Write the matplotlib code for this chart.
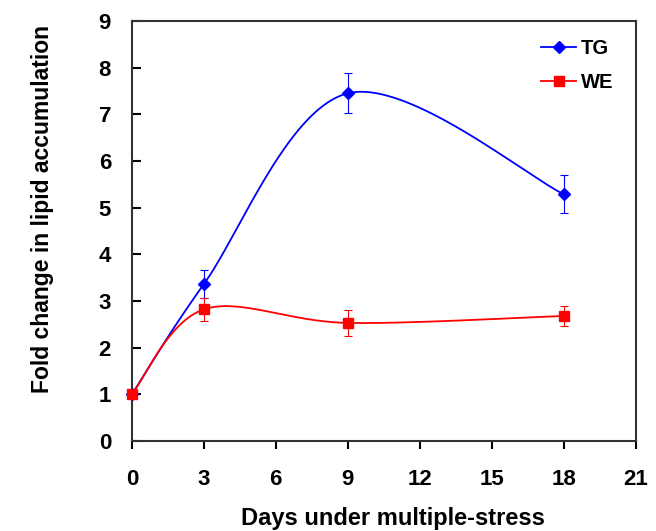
import numpy as np
import matplotlib.pyplot as plt

plt.rcParams['font.family'] = ['Liberation Sans', 'DejaVu Sans']
plt.rcParams['font.weight'] = 'bold'

# donnees
jours = [0, 3, 9, 18]
tg = [1.0, 3.36, 7.45, 5.29]
tg_err = [0.0, 0.30, 0.43, 0.41]
we = [1.0, 2.82, 2.53, 2.68]
we_err = [0.0, 0.25, 0.27, 0.21]


def courbe_lissee(xs, ys, n=60):
    """lissage facon tableur : segments de Bezier (Catmull-Rom)"""
    xs = np.asarray(xs, float)
    ys = np.asarray(ys, float)
    px = np.concatenate([[xs[0]], xs, [xs[-1]]])
    py = np.concatenate([[ys[0]], ys, [ys[-1]]])
    t = np.linspace(0, 1, n)
    bx, by = [], []
    for i in range(1, len(px) - 2):
        c1x = px[i] + (px[i + 1] - px[i - 1]) / 6
        c1y = py[i] + (py[i + 1] - py[i - 1]) / 6
        c2x = px[i + 1] - (px[i + 2] - px[i]) / 6
        c2y = py[i + 1] - (py[i + 2] - py[i]) / 6
        a, b, c, d = (1 - t) ** 3, 3 * (1 - t) ** 2 * t, 3 * (1 - t) * t ** 2, t ** 3
        bx.append(a * px[i] + b * c1x + c * c2x + d * px[i + 1])
        by.append(a * py[i] + b * c1y + c * c2y + d * py[i + 1])
    return np.concatenate(bx), np.concatenate(by)


fig = plt.figure(figsize=(6.56, 5.31), dpi=100)
ax = fig.add_axes([0.201, 0.1695, 0.768, 0.791])

for ys, err, col, mk, ms, nom in [(tg, tg_err, '#0000FF', 'D', 6.5, 'TG'),
                                  (we, we_err, '#FF0000', 's', 6.5, 'WE')]:
    cx, cy = courbe_lissee(jours, ys)
    ax.plot(cx, cy, color=col, lw=1.3, zorder=2)
    ax.errorbar(jours, ys, yerr=err, fmt='none', ecolor=col, elinewidth=0.8,
                capsize=3, capthick=0.8, zorder=3)
    ax.plot(jours, ys, linestyle='none', marker=mk, color=col,
            markersize=ms, zorder=4, clip_on=False)
    ax.plot([], [], color=col, marker=mk, lw=1.3, markersize=ms, label=nom)

ax.set_xlim(0, 21)
ax.set_ylim(0, 9)
ax.set_xticks(range(0, 22, 3))
ax.set_yticks(range(0, 10))
ax.tick_params(axis='x', direction='out', length=6, width=1.5, labelsize=16, pad=14)
ax.tick_params(axis='y', direction='in', length=6.5, width=1.5, labelsize=16, pad=15)
for s in ax.spines.values():
    s.set_linewidth(1.5)
    s.set_color('#333333')

ax.set_xlabel('Days under multiple-stress', fontsize=17, fontweight='bold')
ax.xaxis.set_label_coords(0.519, -0.158)
ax.set_ylabel('Fold change in lipid accumulation', fontsize=16.5, fontweight='bold')
ax.yaxis.set_label_coords(-0.155, 0.552)

leg = ax.legend(loc='upper left', bbox_to_anchor=(0.813, 0.958), frameon=False,
                fontsize=14.5, handlelength=1.7, handletextpad=0.25,
                labelspacing=0.75, borderpad=0, borderaxespad=0)
for t in leg.get_texts():
    t.set_fontweight('bold')

fig.savefig('out.png', dpi=100)
